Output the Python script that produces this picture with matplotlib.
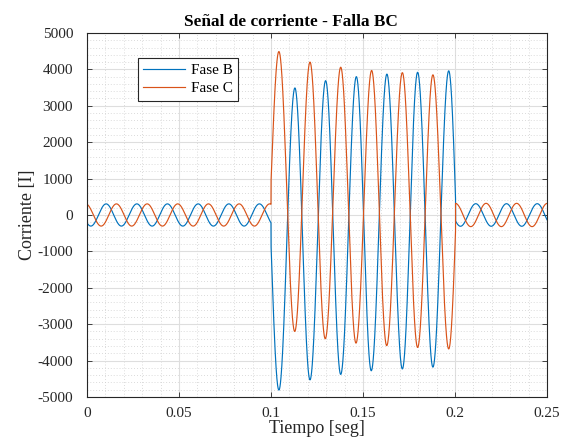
import numpy as np
import matplotlib
matplotlib.use('Agg')
import matplotlib.pyplot as plt
from matplotlib.ticker import MultipleLocator

plt.rcParams['font.family'] = ['Liberation Serif', 'DejaVu Serif']
plt.rcParams['axes.unicode_minus'] = False

# picos y valles (t en seg, corriente)
b_pre_t = [-0.0063, 0.0021, 0.0104, 0.0187, 0.0271, 0.0354, 0.0437, 0.0521,
           0.0604, 0.0687, 0.0771, 0.0854, 0.0937, 0.1021]
b_pre_v = [305, -305, 305, -305, 305, -305, 305, -305, 305, -305, 305, -305, 305, -305]

c_pre_t = [-0.0090, -0.0007, 0.0077, 0.0160, 0.0243, 0.0327, 0.0410, 0.0493,
           0.0577, 0.0660, 0.0743, 0.0827, 0.0910, 0.0993, 0.1077]
c_pre_v = [-305, 305, -305, 305, -305, 305, -305, 305, -305, 305, -305, 305, -305, 305, -305]

b_falla_t = [0.0960, 0.1043, 0.1130, 0.1212, 0.1297, 0.1379, 0.1464, 0.1545,
             0.1630, 0.1714, 0.1797, 0.1880, 0.1966, 0.2047]
b_falla_v = [2780, -4810, 3490, -4530, 3690, -4380, 3800, -4280, 3870, -4230,
             3920, -4180, 3960, -4150]

c_falla_t = [0.0960, 0.1043, 0.1129, 0.1212, 0.1295, 0.1379, 0.1462, 0.1547,
             0.1629, 0.1714, 0.1797, 0.1880, 0.1966, 0.2047]
c_falla_v = [-2340, 4490, -3200, 4200, -3400, 4060, -3520, 3970, -3590, 3910,
             -3640, 3850, -3680, 3800]

b_post_t = [0.1947, 0.2030, 0.2113, 0.2197, 0.2280, 0.2363, 0.2447, 0.2530]
b_post_v = [310, -310, 310, -310, 310, -310, 310, -310]

c_post_t = [0.1919, 0.2002, 0.2086, 0.2169, 0.2252, 0.2335, 0.2419, 0.2502]
c_post_v = [-320, 320, -320, 320, -320, 320, -320, 320]

t_inicio_falla = 0.1
t_fin_falla = 0.2003

x_ticks = [0, 0.05, 0.1, 0.15, 0.2, 0.25]
x_labels = ['0', '0.05', '0.1', '0.15', '0.2', '0.25']
y_ticks = list(range(-5000, 5001, 1000))


def tramo(t_ext, v_ext, t0, t1):
    # onda entre extremos sucesivos (medio coseno)
    t_ext = np.asarray(t_ext)
    v_ext = np.asarray(v_ext, dtype=float)
    t = np.linspace(t0, t1, int((t1 - t0) * 1e5) + 1)
    k = np.clip(np.searchsorted(t_ext, t, side='right') - 1, 0, len(t_ext) - 2)
    u = (t - t_ext[k]) / (t_ext[k + 1] - t_ext[k])
    y = (v_ext[k] + v_ext[k + 1]) / 2 + (v_ext[k] - v_ext[k + 1]) / 2 * np.cos(np.pi * u)
    return t, y


def senal(pre_t, pre_v, f_t, f_v, post_t, post_v):
    t1, y1 = tramo(pre_t, pre_v, 0, t_inicio_falla)
    t2, y2 = tramo(f_t, f_v, t_inicio_falla, t_fin_falla)
    t3, y3 = tramo(post_t, post_v, t_fin_falla, 0.25)
    return np.concatenate([t1, t2, t3]), np.concatenate([y1, y2, y3])


tb, ib = senal(b_pre_t, b_pre_v, b_falla_t, b_falla_v, b_post_t, b_post_v)
tc, ic = senal(c_pre_t, c_pre_v, c_falla_t, c_falla_v, c_post_t, c_post_v)

fig = plt.figure(figsize=(5.7, 4.45), dpi=100)
ax = fig.add_axes([0.1526, 0.1079, 0.807, 0.818])

ax.plot(tb, ib, color='#0072BD', lw=0.85, label='Fase B')
ax.plot(tc, ic, color='#D95319', lw=0.85, label='Fase C')

ax.set_xlim(0, 0.25)
ax.set_ylim(-5000, 5000)
ax.set_xticks(x_ticks)
ax.set_xticklabels(x_labels)
ax.set_yticks(y_ticks)
ax.xaxis.set_minor_locator(MultipleLocator(0.01))
ax.yaxis.set_minor_locator(MultipleLocator(200))

ax.set_axisbelow(True)
ax.grid(which='major', color='#dedede', lw=0.8)
ax.grid(which='minor', color='#cfcfcf', ls=(0, (1, 2.5)), lw=0.6)

ax.tick_params(which='major', direction='in', length=3.5, width=0.6,
               top=True, right=True, labelsize=11, colors='#262626')
ax.tick_params(axis='x', pad=7)
ax.tick_params(axis='y', pad=10)
ax.tick_params(which='minor', length=0)
for s in ax.spines.values():
    s.set_color('#262626')
    s.set_linewidth(0.8)

ax.set_xlabel('Tiempo [seg]', fontsize=13, color='#262626', labelpad=0)
ax.set_ylabel('Corriente [I]', fontsize=13, color='#262626', labelpad=1)
ax.set_title('Señal de corriente - Falla BC', fontsize=12.4, fontweight='bold',
             x=0.4435, pad=5)

leg = ax.legend(loc='upper left', bbox_to_anchor=(0.111, 0.931), borderaxespad=0,
                fancybox=False, framealpha=1, edgecolor='#262626', fontsize=11,
                handlelength=2.7, borderpad=0.35, labelspacing=0.3, handletextpad=0.4)
leg.get_frame().set_linewidth(0.8)

plt.savefig('out.png', dpi=100)
plt.close()
